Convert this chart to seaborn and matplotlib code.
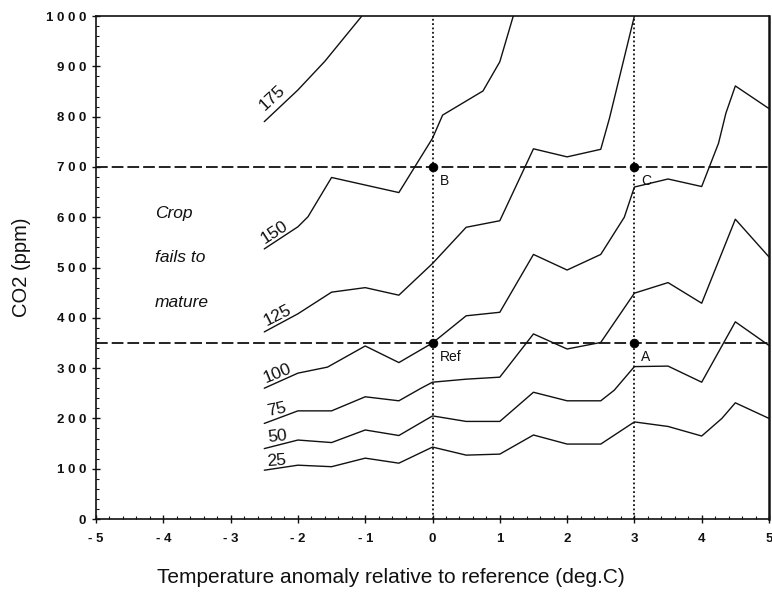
import numpy as np
import pandas as pd
import matplotlib
matplotlib.use("Agg")
import matplotlib.pyplot as plt
import seaborn as sns
from matplotlib.ticker import MultipleLocator, FixedLocator

# ---------------- data ----------------
temp_25 = [-2.5, -2.0, -1.5, -1.0, -0.5, 0.0, 0.5, 1.0, 1.5, 2.0, 2.5, 3.0, 3.5, 4.0, 4.3, 4.5, 5.0]
co2_25 = [97, 107, 104, 121, 111, 143, 127, 129, 167, 149, 149, 193, 184, 165, 200, 231, 200]

temp_50 = [-2.5, -2.0, -1.5, -1.0, -0.5, 0.0, 0.5, 1.0, 1.5, 2.0, 2.5, 2.7, 3.0, 3.5, 4.0, 4.5, 5.0]
co2_50 = [140, 157, 152, 177, 166, 205, 194, 194, 252, 235, 235, 256, 303, 304, 272, 392, 345]

temp_75 = [-2.5, -2.0, -1.5, -1.0, -0.5, -0.17, 0.0, 0.5, 1.0, 1.5, 2.0, 2.5, 3.0, 3.5, 4.0, 4.5, 5.0]
co2_75 = [190, 215, 215, 243, 235, 260, 272, 278, 282, 368, 338, 351, 449, 470, 429, 596, 521]

temp_100 = [-2.5, -2.0, -1.56, -1.0, -0.5, 0.0, 0.5, 1.0, 1.5, 2.0, 2.5, 2.85, 3.0, 3.5, 4.0, 4.25, 4.36, 4.5, 5.0]
co2_100 = [260, 290, 302, 344, 311, 350, 404, 411, 526, 495, 526, 600, 660, 676, 661, 747, 807, 861, 816]

temp_125 = [-2.5, -2.0, -1.5, -1.0, -0.5, 0.0, 0.5, 1.0, 1.5, 2.0, 2.5, 2.63, 3.0]
co2_125 = [372, 408, 451, 460, 445, 508, 580, 593, 736, 720, 735, 797, 1000]

temp_150 = [-2.5, -2.0, -1.85, -1.5, -0.5, 0.0, 0.15, 0.75, 1.0, 1.2]
co2_150 = [537, 581, 601, 679, 649, 757, 803, 851, 909, 1000]

temp_175 = [-2.5, -2.0, -1.6, -1.05]
co2_175 = [790, 853, 910, 1000]

curve_names = ["25", "50", "75", "100", "125", "150", "175"]
curve_temps = [temp_25, temp_50, temp_75, temp_100, temp_125, temp_150, temp_175]
curve_co2 = [co2_25, co2_50, co2_75, co2_100, co2_125, co2_150, co2_175]

ref_temps = [0, 3]
ref_co2 = [350, 700]
point_names = ["Ref", "A", "B", "C"]
point_temps = [0, 3, 0, 3]
point_co2 = [350, 350, 700, 700]

note_lines = ["Crop", "fails to", "mature"]

x_ticks = [-5, -4, -3, -2, -1, 0, 1, 2, 3, 4, 5]
y_ticks = [0, 100, 200, 300, 400, 500, 600, 700, 800, 900, 1000]

x_label = "Temperature anomaly relative to reference (deg.C)"
y_label = "CO2 (ppm)"

# ---------------- build table ----------------
rows = []
for name, ts, cs in zip(curve_names, curve_temps, curve_co2):
    for i, (t, c) in enumerate(zip(ts, cs)):
        rows.append({"curve": name, "order": i, "temp": t, "co2": c})
df = pd.DataFrame(rows)

# ---------------- plot ----------------
sns.set_theme(style="ticks")
plt.rcParams["font.family"] = ["Liberation Sans", "DejaVu Sans"]

fig = plt.figure(figsize=(7.72, 5.98), dpi=100)
ax = fig.add_axes([0.1244, 0.1321, 0.8717, 0.8411])

sns.lineplot(data=df, x="temp", y="co2", units="curve", estimator=None,
             sort=False, color="#111111", lw=1.0, ax=ax, legend=False)

# reference lines
for y in ref_co2:
    ax.axhline(y, color="#111111", lw=1.3, ls=(0, (6.5, 2.2)), zorder=1)
for x in ref_temps:
    ax.axvline(x, color="#111111", lw=1.3, ls=(0, (1, 1.4)), zorder=1)

# points
pts = pd.DataFrame({"temp": point_temps, "co2": point_co2, "name": point_names})
sns.scatterplot(data=pts, x="temp", y="co2", color="black", s=40,
                edgecolor="black", ax=ax, zorder=5, legend=False)
for _, r in pts.iterrows():
    ax.annotate(r["name"], (r["temp"], r["co2"]), xytext=(5, -5),
                textcoords="offset points", ha="left", va="top",
                fontsize=10, color="#111111")

# curve labels
label_dx = [0.18, 0.20, 0.18, 0.20, 0.20, 0.15, 0.12]
label_dy = [18, 25, 27, 30, 33, 34, 47]
label_rot = [4, 6, 12, 22, 27, 33, 43]
for name, ts, cs, dx, dy, rot in zip(curve_names, curve_temps, curve_co2,
                                     label_dx, label_dy, label_rot):
    ax.text(ts[0] + dx, cs[0] + dy, name, rotation=rot, ha="center",
            va="center", rotation_mode="anchor", fontsize=12.5, color="#111111")

# note text
note_y = [608, 519, 431]
for line, yy in zip(note_lines, note_y):
    ax.text(-4.13, yy, line, style="italic", fontsize=12.5, ha="left",
            va="center", color="#111111")

# axes
ax.set_xlim(-5, 5)
ax.set_ylim(0, 1000)
ax.xaxis.set_major_locator(FixedLocator(x_ticks))
ax.yaxis.set_major_locator(FixedLocator(y_ticks))
ax.set_xticklabels([("- " + str(-v)) if v < 0 else str(v) for v in x_ticks])
ax.set_yticklabels([" ".join(str(v)) for v in y_ticks])
for lab in ax.get_xticklabels() + ax.get_yticklabels():
    lab.set_fontweight("bold")
ax.xaxis.set_minor_locator(MultipleLocator(0.2))
ax.yaxis.set_minor_locator(MultipleLocator(20))
ax.tick_params(axis="both", which="major", direction="inout", length=6,
               width=1.0, labelsize=9.5, color="#111111", labelcolor="#111111")
ax.tick_params(axis="x", which="major", pad=7)
ax.tick_params(axis="y", which="major", pad=4)
ax.tick_params(axis="both", which="minor", direction="in", length=2.5,
               width=0.8, color="#111111")
for side in ["left", "bottom", "top", "right"]:
    ax.spines[side].set_visible(True)
    ax.spines[side].set_color("#111111")
    ax.spines[side].set_linewidth(1.2)
ax.spines["right"].set_linewidth(1.8)

ax.set_xlabel("")
ax.set_ylabel(y_label, fontsize=14.5, color="#111111", labelpad=11)
fig.text(0.506, 0.035, x_label, ha="center", va="center", fontsize=15,
         color="#111111")

fig.savefig("out.png", dpi=100)
